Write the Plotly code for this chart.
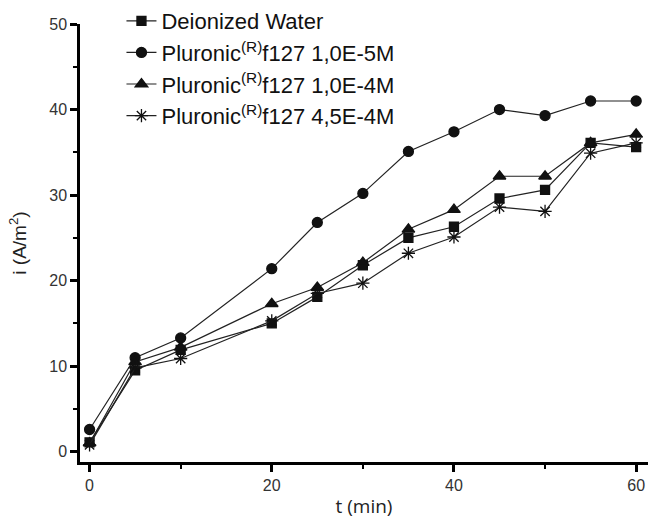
import plotly.graph_objects as go

t = [0, 5, 10, 20, 25, 30, 35, 40, 45, 50, 55, 60]
water = [1.1, 9.5, 11.9, 15.0, 18.1, 21.8, 25.0, 26.3, 29.6, 30.6, 36.1, 35.6]
f127_1e5 = [2.6, 11.0, 13.3, 21.4, 26.8, 30.2, 35.1, 37.4, 40.0, 39.3, 41.0, 41.0]
f127_1e4 = [1.0, 10.5, 12.2, 17.3, 19.2, 22.1, 26.0, 28.3, 32.2, 32.2, 36.1, 37.1]
f127_45e4 = [0.8, 9.8, 10.9, 15.3, 18.5, 19.7, 23.2, 25.1, 28.6, 28.1, 34.9, 36.1]

names = ["Deionized Water",
         "Pluronic<sup>(R)</sup>f127 1,0E-5M",
         "Pluronic<sup>(R)</sup>f127 1,0E-4M",
         "Pluronic<sup>(R)</sup>f127 4,5E-4M"]
series = [water, f127_1e5, f127_1e4, f127_45e4]
symbols = ["square", "circle", "triangle-up", "asterisk-open"]
sizes = [9, 10, 11, 11]

fig = go.Figure()
for i, (nm, ys, sym, sz) in enumerate(zip(names, series, symbols, sizes)):
    fig.add_trace(go.Scatter(
        x=t, y=ys, name=nm, mode="lines+markers", legendgroup=f"g{i}",
        line=dict(color="#222222", width=1.2),
        marker=dict(symbol=sym, size=sz, color="#111111",
                    line=dict(color="#111111", width=1.3)),
    ))

axis_common = dict(
    showline=True, linecolor="black", linewidth=2.5, mirror=False,
    ticks="outside", ticklen=7, tickwidth=2.5, tickcolor="black",
    showgrid=False, zeroline=False,
    tickfont=dict(family="Liberation Sans, Arial", size=16, color="#333333"),
    minor=dict(ticks="outside", ticklen=4, tickwidth=2, tickcolor="black", showgrid=False),
)

fig.update_layout(
    width=648, height=519,
    margin=dict(l=80, r=0, t=24, b=57),
    paper_bgcolor="white", plot_bgcolor="white",
    xaxis=dict(range=[-1.05, 61.3], tickvals=[0, 20, 40, 60],
               title=dict(text="t (min)", standoff=10,
                          font=dict(family="Open Sans", size=19, color="#222222")),
               **axis_common),
    yaxis=dict(range=[-1.2, 50], tickvals=[0, 10, 20, 30, 40, 50],
               title=dict(text="i (A/m<sup>2</sup>)", standoff=18,
                          font=dict(family="Liberation Sans, Arial", size=19, color="#222222")),
               **axis_common),
    legend=dict(x=0.073, y=1.055, xanchor="left", yanchor="top",
                bgcolor="rgba(0,0,0,0)", tracegroupgap=0,
                font=dict(family="Liberation Sans, Arial", size=22, color="#111111")),
)
fig.update_xaxes(minor=dict(tickvals=[10, 30, 50]))
fig.update_yaxes(minor=dict(tickvals=[5, 15, 25, 35, 45]))

fig.write_html("out.html")
